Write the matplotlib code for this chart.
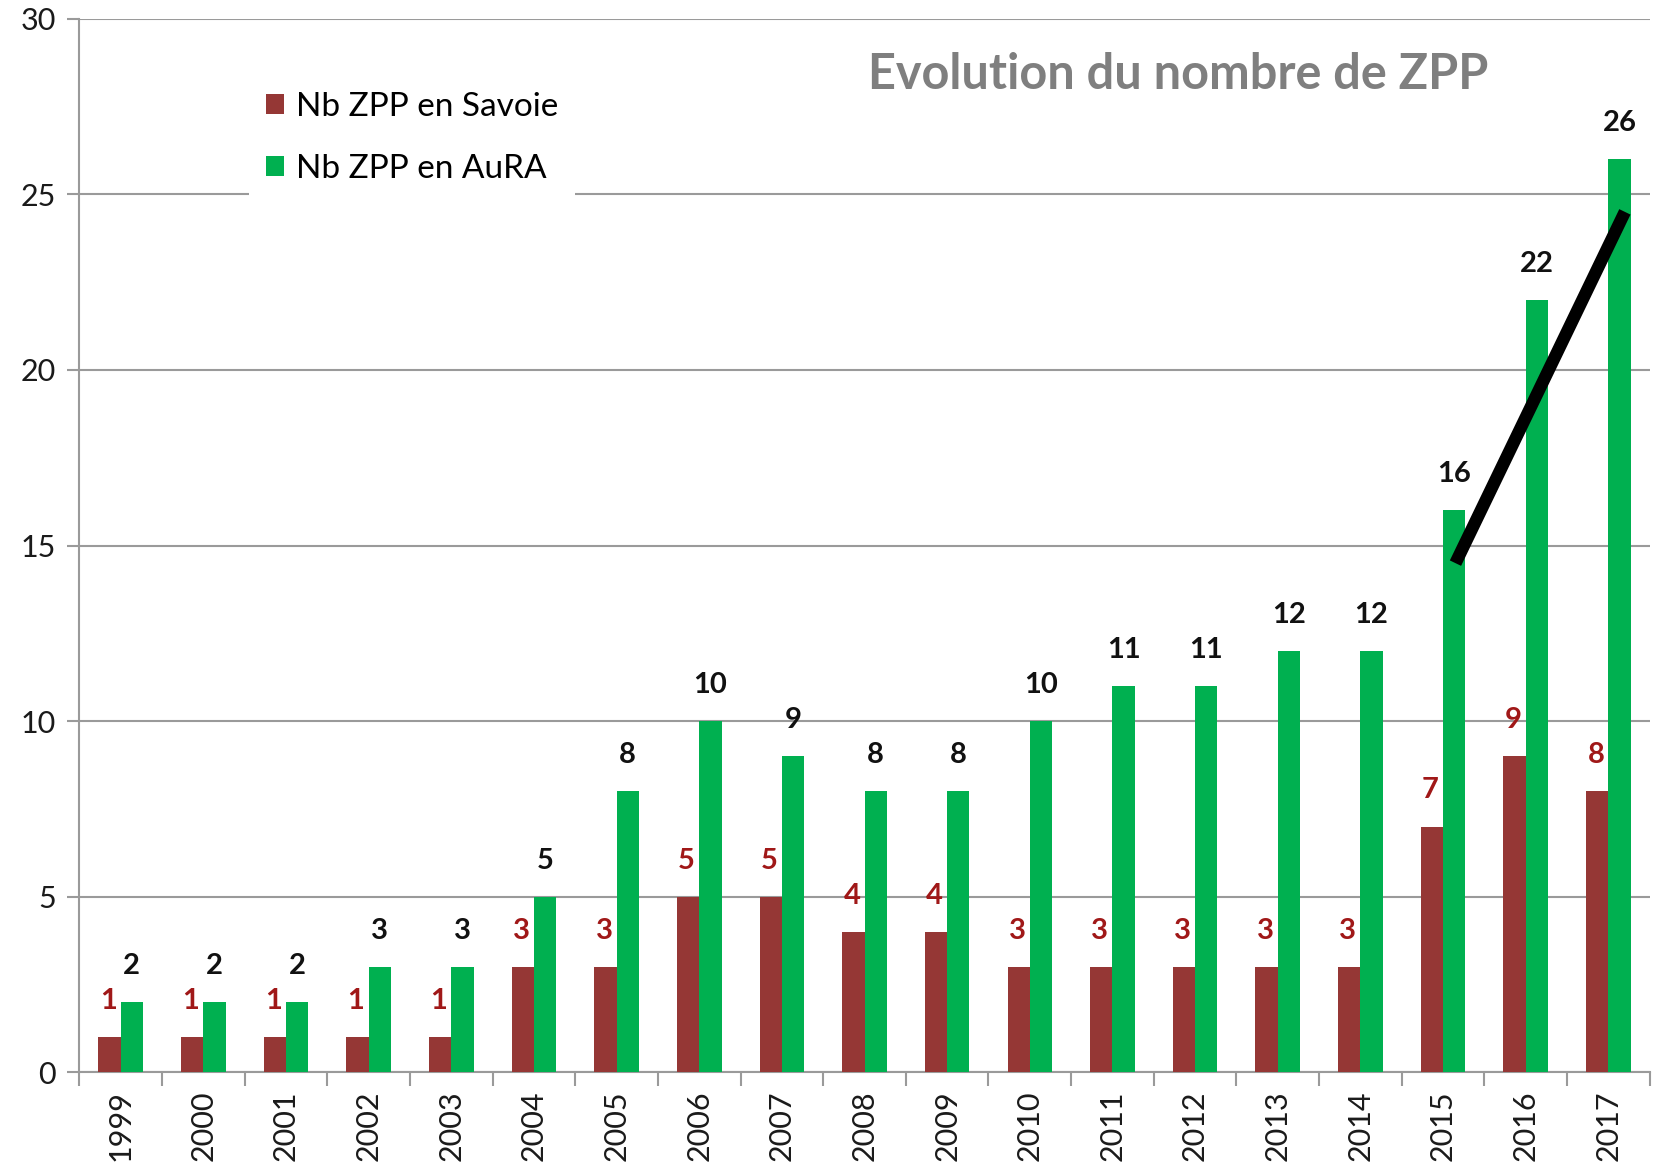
import numpy as np
import matplotlib
matplotlib.use("Agg")
import matplotlib.pyplot as plt

plt.rcParams["font.family"] = ["Lato", "DejaVu Sans"]

years = list(range(1999, 2018))
savoie = [1, 1, 1, 1, 1, 3, 3, 5, 5, 4, 4, 3, 3, 3, 3, 3, 7, 9, 8]
aura = [2, 2, 2, 3, 3, 5, 8, 10, 9, 8, 8, 10, 11, 11, 12, 12, 16, 22, 26]
# hand-drawn trend stroke over the last three AuRA bars
trend_years = [2015.15, 2017.2]
trend_values = [14.5, 24.5]

c_savoie = "#953735"
c_aura = "#00B050"
c_savoie_lbl = "#A01818"
c_grid = "#9A9A9A"

fig = plt.figure(figsize=(16.53, 11.67), dpi=100)
ax = fig.add_axes([0.048, 0.081, 0.950, 0.903])

x = np.array(years, dtype=float)
w = 0.27
ax.bar(x - w / 2, savoie, w, color=c_savoie, label="Nb ZPP en Savoie", zorder=3)
ax.bar(x + w / 2, aura, w, color=c_aura, label="Nb ZPP en AuRA", zorder=3)

for xi, v in zip(x - w / 2, savoie):
    ax.annotate(str(v), (xi, v), xytext=(-1, 26), textcoords="offset points",
                ha="center", va="center", fontsize=21, fontweight="bold",
                color=c_savoie_lbl, zorder=5)
for xi, v in zip(x + w / 2, aura):
    ax.annotate(str(v), (xi, v), xytext=(0, 26), textcoords="offset points",
                ha="center", va="center", fontsize=21, fontweight="bold",
                color="#111111", zorder=5)

ax.plot(trend_years, trend_values, color="black", lw=9, solid_capstyle="butt", zorder=6)

ax.set_xlim(years[0] - 0.5, years[-1] + 0.5)
ax.set_ylim(0, 30)
ax.set_yticks(range(0, 31, 5))
ax.set_xticks(x)
ax.set_xticklabels([str(y) for y in years], rotation=90)
ax.set_xticks(np.arange(years[0] - 0.5, years[-1] + 0.6, 1), minor=True)
ax.tick_params(axis="x", which="major", length=0, pad=13, labelsize=22, labelcolor="#1a1a1a")
ax.tick_params(axis="x", which="minor", length=10, width=1.5, color=c_grid, direction="out")
ax.tick_params(axis="y", length=9, width=1.5, color=c_grid, pad=8, labelsize=22,
               labelcolor="#1a1a1a")

ax.grid(axis="y", color=c_grid, lw=1.5, zorder=0)
ax.set_axisbelow(True)
for s in ["top", "right"]:
    ax.spines[s].set_visible(False)
for s in ["left", "bottom"]:
    ax.spines[s].set_color(c_grid)
    ax.spines[s].set_linewidth(1.5)

ax.text(0.70, 0.947, "Evolution du nombre de ZPP", transform=ax.transAxes,
        ha="center", va="center", fontsize=35, fontweight="bold", color="#7F7F7F")

leg = ax.legend(loc="upper left", bbox_to_anchor=(0.108, 0.946), fontsize=24,
                frameon=True, fancybox=False, edgecolor="white", framealpha=1,
                handlelength=0.55, handleheight=0.55, handletextpad=0.35,
                labelspacing=0.95, borderpad=0.5, borderaxespad=0)
leg.set_zorder(4)
leg.get_frame().set_linewidth(0)

fig.savefig("out.png", dpi=100)
